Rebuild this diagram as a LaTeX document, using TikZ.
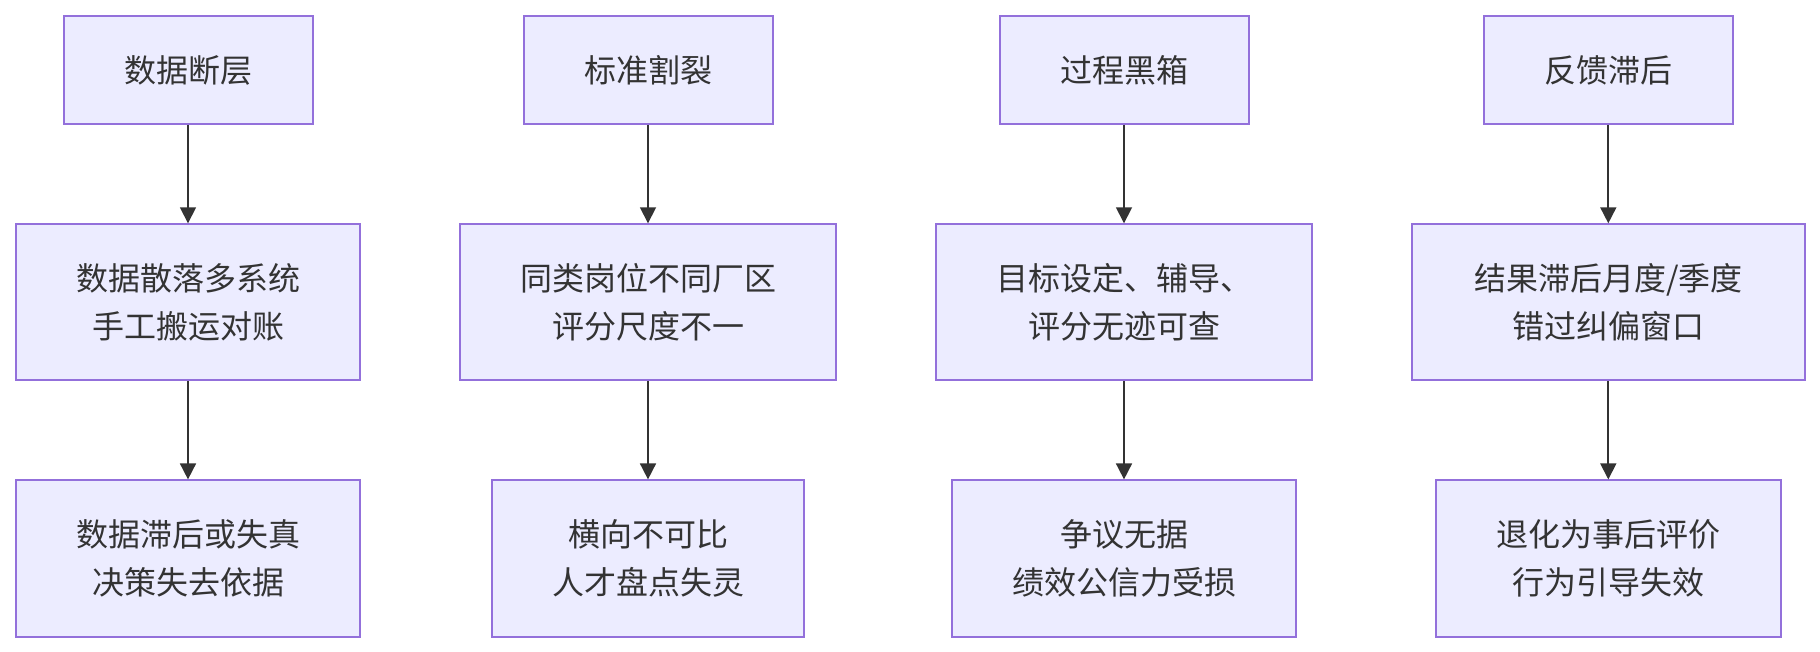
\documentclass[tikz,border=0pt]{standalone}
\usepackage{fontspec}
\setmainfont{Noto Sans CJK SC}
\usetikzlibrary{arrows.meta}
\definecolor{boxfill}{HTML}{ECECFF}
\definecolor{boxline}{HTML}{9370DB}
\definecolor{ink}{HTML}{333333}
\tikzset{
  box/.style={draw=boxline, fill=boxfill, line width=1pt, rectangle, inner sep=0pt,
    align=center, text=ink, font=\fontsize{16pt}{24pt}\selectfont, minimum height=#1},
  top/.style={box=54pt, minimum width=124.5pt},
  mid/.style={box=78pt},
  bot/.style={box=78.3pt},
  link/.style={draw=ink, line width=0.85pt, -{Triangle[length=8pt,width=8pt]}}
}
\begin{document}
\begin{tikzpicture}[x=0.5pt,y=-0.5pt]
\useasboundingbox (0,0) rectangle (1820,652);
% column 1
\node[top] (a1) at (188,70) {数据断层};
\node[mid, minimum width=172.3pt] (b1) at (188,302.3) {数据散落多系统\\手工搬运对账};
\node[bot, minimum width=172.3pt] (c1) at (188,558.7) {数据滞后或失真\\决策失去依据};
% column 2
\node[top] (a2) at (648,70) {标准割裂};
\node[mid, minimum width=188.3pt] (b2) at (648,302.3) {同类岗位不同厂区\\评分尺度不一};
\node[bot, minimum width=156.3pt] (c2) at (648,558.7) {横向不可比\\人才盘点失灵};
% column 3
\node[top] (a3) at (1124,70) {过程黑箱};
\node[mid, minimum width=188.3pt] (b3) at (1124,302.3) {目标设定、辅导、\\评分无迹可查};
\node[bot, minimum width=172.3pt] (c3) at (1124,558.7) {争议无据\\绩效公信力受损};
% column 4
\node[top] (a4) at (1608.3,70) {反馈滞后};
\node[mid, minimum width=196.7pt] (b4) at (1608.3,302.3) {结果滞后月度/季度\\错过纠偏窗口};
\node[bot, minimum width=172.2pt] (c4) at (1608.3,558.7) {退化为事后评价\\行为引导失效};
% connectors
\foreach \i in {1,2,3,4}{
  \draw[link] (a\i) -- (b\i);
  \draw[link] (b\i) -- (c\i);
}
\end{tikzpicture}
\end{document}
